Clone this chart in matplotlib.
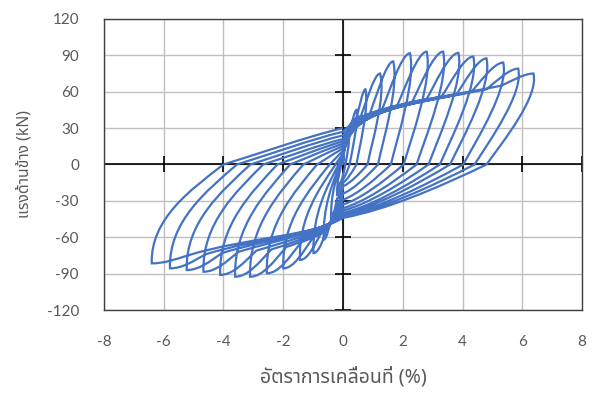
import matplotlib
matplotlib.use("Agg")
import matplotlib.pyplot as plt
from matplotlib.path import Path
from matplotlib.patches import PathPatch

# push side: peak drift (%) and lateral force (kN) of each cycle
pos_drift = [0.2, 0.45, 0.75, 1.24, 1.68, 2.24, 2.8, 3.35, 3.86, 4.36, 4.8, 5.36, 5.86, 6.37]
pos_force = [25, 45, 62, 75, 85, 91.7, 93, 93, 92, 89, 87.5, 84, 79, 75]
# point where the push reloading branch leaves the pinched band
pos_band_drift = [0.1, 0.25, 0.45, 0.6, 0.9, 1.3, 1.8, 2.3, 2.8, 3.3, 3.8, 4.3, 4.8, 5.3]
pos_band_force = [15, 30, 38, 40, 42, 45, 48, 51, 54, 56, 58, 60, 62, 65]
# pull side
neg_drift = [-0.2, -0.4, -0.65, -0.99, -1.44, -2.0, -2.55, -3.11, -3.61, -4.11, -4.67, -5.23, -5.79, -6.4]
neg_force = [-25, -45, -62, -73, -78.7, -85.6, -89.7, -92.5, -92.5, -91, -88.4, -87, -85.6, -81.5]
neg_band_drift = [-0.1, -0.2, -0.35, -0.45, -0.7, -1.0, -1.4, -1.9, -2.4, -2.9, -3.5, -4.05, -4.6, -5.2]
neg_band_force = [-15, -28, -40, -48, -55, -60, -64, -68, -70, -71, -72, -73, -74, -75]
# drift where unloading crosses zero force
pos_zero = [0.08, 0.22, 0.45, 0.82, 1.17, 1.6, 2.03, 2.46, 2.86, 3.24, 3.58, 4.02, 4.4, 4.8]
neg_zero = [-0.05, -0.08, -0.1, -0.15, -0.25, -0.45, -0.87, -1.33, -1.77, -2.2, -2.67, -3.1, -3.55, -4.0]
# force where the curve passes zero drift (towards pull / back towards push)
down_force = [-8, -12, -15, -18, -24, -29, -33, -36, -38, -40, -41, -42, -43, -44]
up_force = [1, 3, 5, 7, 9, 11, 13, 15, 17, 19, 21, 24, 27, 30]

x_ticks = [-8, -6, -4, -2, 0, 2, 4, 6, 8]
y_ticks = [-120, -90, -60, -30, 0, 30, 60, 90, 120]

plt.rcParams['font.family'] = ['Lato', 'DejaVu Sans']
plt.rcParams['axes.unicode_minus'] = False
thai = ['Noto Sans Thai', 'Lato', 'DejaVu Sans']

fig = plt.figure(figsize=(5.94, 3.94), dpi=100)
ax = fig.add_axes([0.175, 0.213, 0.805, 0.739])

# build the whole test record as one bezier path
verts = [(0, 0)]
codes = [Path.MOVETO]


def curve(p1, p2, p3):
    verts.extend([p1, p2, p3])
    codes.extend([Path.CURVE4] * 3)


start_f = 0
for i in range(len(pos_drift)):
    xp, fp, zp = pos_drift[i], pos_force[i], pos_zero[i]
    xb, fb = pos_band_drift[i], pos_band_force[i]
    xn, fn, zn = neg_drift[i], neg_force[i], neg_zero[i]
    xm, fm = neg_band_drift[i], neg_band_force[i]
    fd, fu = down_force[i], up_force[i]
    if i > 0:
        verts.append((0, start_f))
        codes.append(Path.LINETO)
    s = min(xp, 1.2) / 1.2
    w = xp - xb
    # reload into the band, then up to the push peak
    curve((0.15 * xb, start_f + 0.6 * (fb - start_f)), (0.5 * xb, fb - 2.5 * xb), (xb, fb))
    curve((xb + 0.25 * w, fb + 0.3 * (fp - fb)), (xp - 0.3 * w, fp), (xp, fp))
    # unload to zero force
    curve((xp + 0.2 * s, 0.75 * fp), (zp + 0.35 * (xp - zp), 0.25 * fp), (zp, 0))
    # on to zero drift
    curve((0.65 * zp, 0.45 * fd), (0.3 * zp, 0.85 * fd), (0, fd))
    # load along the band, then down to the pull peak
    wn = xm - xn
    curve((0.2 * xm, fd + 0.5 * (fm - fd)), (0.6 * xm, fm - 3 * xm), (xm, fm))
    curve((xm - 0.35 * wn, fm + 0.5 * (fn - fm)), (xn + 0.35 * wn, fn), (xn, fn))
    # unload from pull peak
    sn = min(-xn, 1.2) / 1.2
    curve((xn - 0.05 * sn, 0.55 * fn), (zn + 0.45 * (xn - zn), 0.25 * fn), (zn, 0))
    # back to zero drift
    curve((0.7 * zn, 0.3 * fu), (0.3 * zn, 0.77 * fu), (0, fu))
    start_f = fu

ax.add_patch(PathPatch(Path(verts, codes), fill=False, edgecolor='#4472C4',
                       lw=1.6, zorder=3))

ax.set_xlim(-8, 8)
ax.set_ylim(-120, 120)
ax.set_xticks(x_ticks)
ax.set_yticks(y_ticks)
ax.grid(True, color='#BFBFBF', lw=1)
ax.set_axisbelow(True)
ax.tick_params(axis='x', length=0, pad=18, labelsize=11, labelcolor='#595959')
ax.tick_params(axis='y', length=0, pad=18, labelsize=11, labelcolor='#595959')
for s in ax.spines.values():
    s.set_color('#404040')
    s.set_linewidth(1)

# centre axes with cross tick marks
ax.axhline(0, color='black', lw=1.2, zorder=2)
ax.axvline(0, color='black', lw=1.2, zorder=2)
ax.plot(x_ticks, [0] * len(x_ticks), ls='none', marker='|', ms=11, mew=1.2,
        color='black', zorder=2)
ax.plot([0] * len(y_ticks), y_ticks, ls='none', marker='_', ms=11, mew=1.2,
        color='black', zorder=2)

ax.set_xlabel('อัตราการเคลื่อนที่ (%)', family=thai, fontsize=14,
              color='#595959', labelpad=13)
ax.set_ylabel('แรงด้านข้าง (kN)', family=thai, fontsize=11.3,
              color='#595959', labelpad=10)

fig.savefig('out.png', dpi=100)
